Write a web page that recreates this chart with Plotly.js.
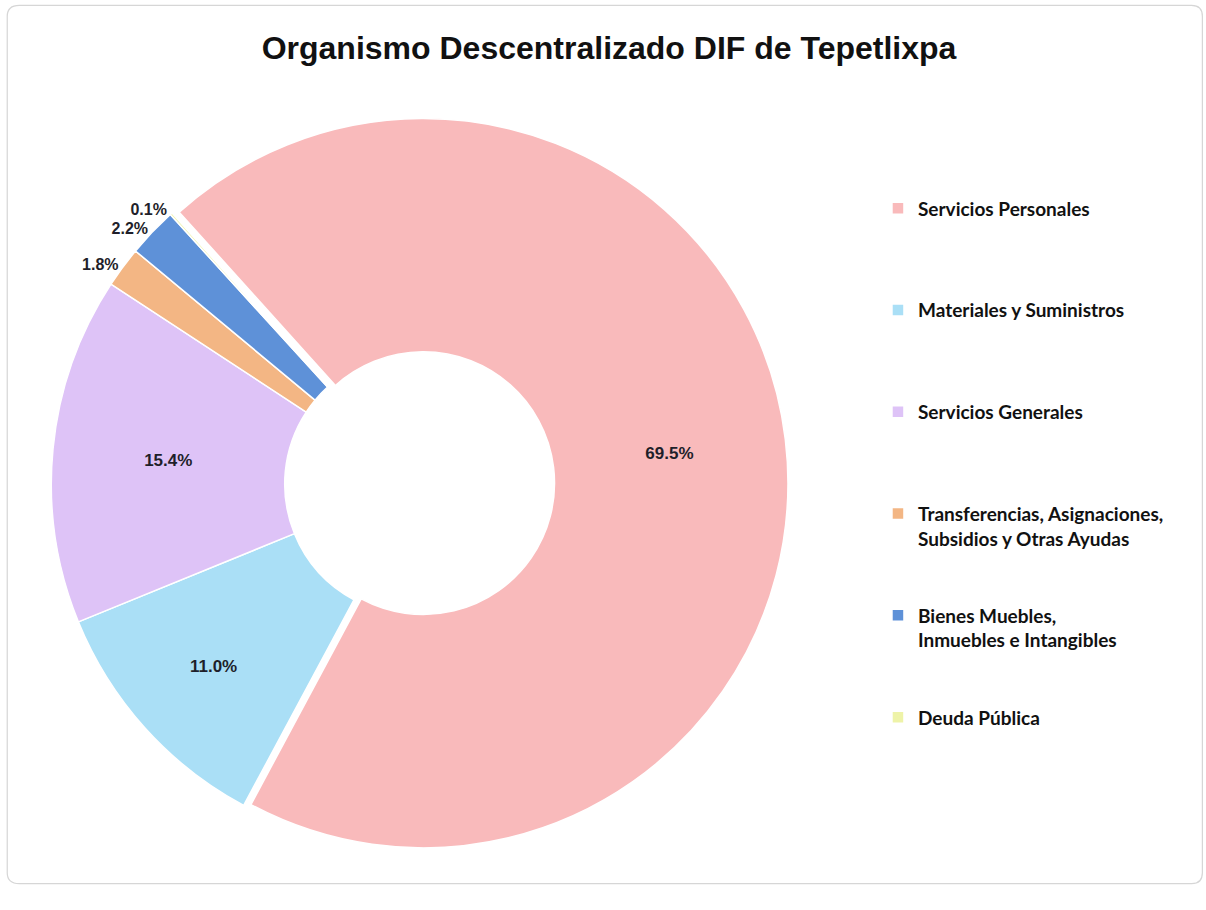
<!DOCTYPE html>
<html>
<head>
<meta charset="utf-8">
<script src="https://cdn.plot.ly/plotly-3.0.1.min.js"></script>
<style>html,body{margin:0;padding:0;background:#fff;}#chart{width:1206px;height:910px;}</style>
</head>
<body>
<div id="chart"></div>
<script>
// Data
var categories = [
  "Servicios Personales",
  "Materiales y Suministros",
  "Servicios Generales",
  "Transferencias, Asignaciones,<br>Subsidios y Otras Ayudas",
  "Bienes Muebles,<br>Inmuebles e Intangibles",
  "Deuda Pública"
];
var values = [69.5, 11.0, 15.4, 1.8, 2.2, 0.1];
var colors = ["#F9BABB", "#AADFF6", "#DEC3F7", "#F3B684", "#5E91D8", "#EEF3A8"];
var textPositions = ["inside", "inside", "inside", "outside", "outside", "outside"];
var pulls = [0.02, 0, 0, 0, 0, 0];

// legend entries padded to equal height (4 lines each)
var legendLabels = categories.map(function (c) {
  var n = c.split("<br>").length;
  var s = c;
  for (var i = n; i < 4; i++) s += "<br> ";
  return s;
});

var trace = {
  type: "pie",
  labels: legendLabels,
  values: values,
  sort: false,
  direction: "clockwise",
  rotation: -42,
  hole: 0.36,
  pull: pulls,
  marker: { colors: colors, line: { color: "#ffffff", width: 1.5 } },
  textinfo: "percent",
  texttemplate: "%{percent:.1%}",
  textposition: textPositions,
  insidetextorientation: "horizontal",
  textfont: { family: "Liberation Sans, Arial", size: 17, color: "#1f1f2a", weight: "bold" },
  outsidetextfont: { family: "Liberation Sans, Arial", size: 16, color: "#1f1f2a", weight: "bold" },
  domain: { x: [0.0365, 0.6534], y: [0.0593, 0.8769] },
  automargin: false,
  showlegend: true,
  hoverinfo: "percent"
};

var layout = {
  width: 1206,
  height: 910,
  margin: { l: 0, r: 0, t: 0, b: 0 },
  paper_bgcolor: "#ffffff",
  title: {
    text: "<b>Organismo Descentralizado DIF de Tepetlixpa</b>",
    font: { family: "Liberation Sans, Arial", size: 32, color: "#111111" },
    x: 0.505, xanchor: "center",
    y: 0.947, yanchor: "middle"
  },
  legend: {
    x: 0.728, xanchor: "left",
    y: 0.792, yanchor: "top",
    valign: "top",
    font: { family: "Lato, Calibri, Carlito, sans-serif", size: 19, color: "#111111", weight: "bold" },
    bgcolor: "rgba(0,0,0,0)",
    traceorder: "normal"
  },
  shapes: [{
    type: "path",
    xref: "paper", yref: "paper",
    path: "M 0.016,0.994 L 0.988,0.994 Q 0.997,0.994 0.997,0.982 L 0.997,0.041 Q 0.997,0.029 0.988,0.029 L 0.016,0.029 Q 0.006,0.029 0.006,0.041 L 0.006,0.982 Q 0.006,0.994 0.016,0.994 Z",
    line: { color: "#d6d6d6", width: 1.2 },
    fillcolor: "rgba(0,0,0,0)",
    layer: "below"
  }]
};

Plotly.newPlot("chart", [trace], layout, { displayModeBar: false, staticPlot: true });
</script>
</body>
</html>
